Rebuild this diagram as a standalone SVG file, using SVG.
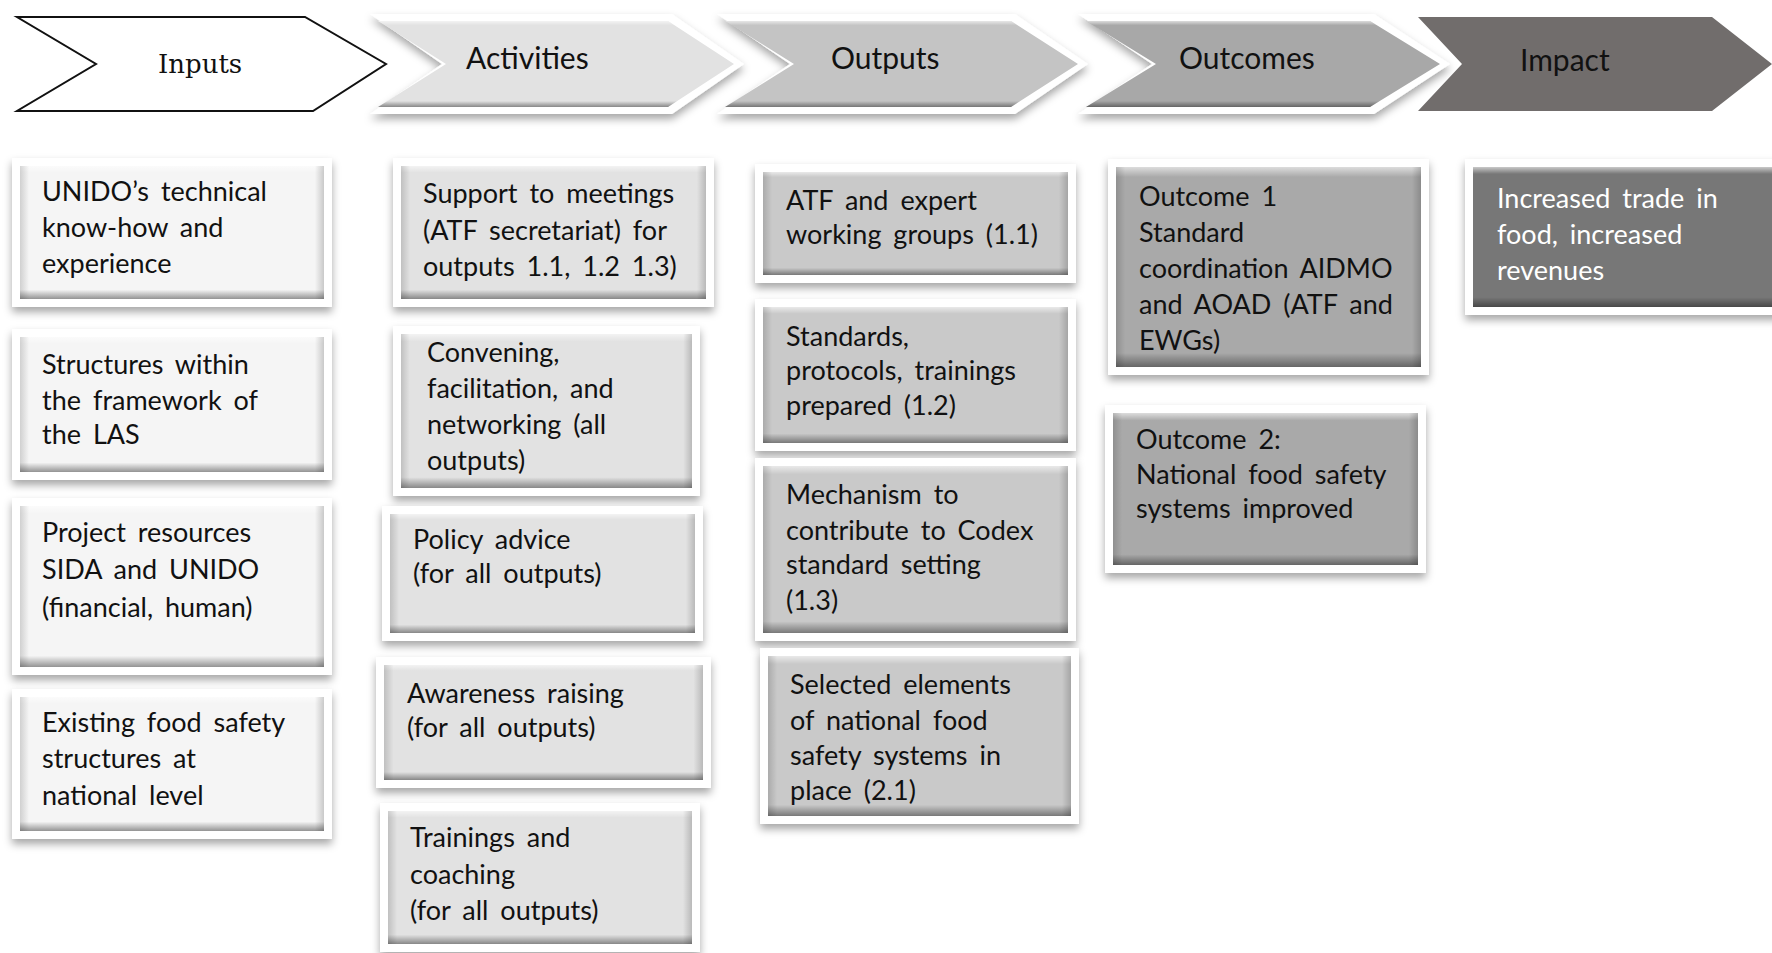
<svg xmlns="http://www.w3.org/2000/svg" width="1772" height="953" viewBox="0 0 1772 953">
<defs>
<filter id="sh" x="-10%" y="-10%" width="120%" height="130%">
<feDropShadow dx="0" dy="5" stdDeviation="4" flood-color="#000" flood-opacity="0.35"/>
</filter>
<linearGradient id="bevV" x1="0" y1="0" x2="0" y2="1">
<stop offset="0" stop-color="#fff" stop-opacity="0.6"/>
<stop offset="0.05" stop-color="#fff" stop-opacity="0"/>
<stop offset="0.93" stop-color="#000" stop-opacity="0"/>
<stop offset="1" stop-color="#000" stop-opacity="0.4"/>
</linearGradient>
<linearGradient id="bevH" x1="0" y1="0" x2="1" y2="0">
<stop offset="0" stop-color="#000" stop-opacity="0.15"/>
<stop offset="0.03" stop-color="#000" stop-opacity="0"/>
<stop offset="0.97" stop-color="#000" stop-opacity="0"/>
<stop offset="1" stop-color="#000" stop-opacity="0.18"/>
</linearGradient>
</defs>
<style>
.o{fill:#fff;filter:url(#sh)}
.bv{fill:url(#bevV)}
.bh{fill:url(#bevH)}
.in{fill:#f5f5f5}
.ac{fill:#e2e2e2}
.ou{fill:#c9c9c9}
.oc{fill:#a9a9a9}
.im{fill:#777777}
.t{font-family:Lato,"Liberation Sans",sans-serif;font-size:27px;fill:#111;word-spacing:5px}
.tw{fill:#fff}
.h{font-family:Lato,"Liberation Sans",sans-serif;font-size:30px;fill:#111}
.hs{font-family:"DejaVu Serif","Liberation Serif",serif;font-size:26px;fill:#111}
</style>

<g id="header-inputs">
<polygon points="17,17 305,17 386,64 313,111 17,111 96,64" fill="#fff" stroke="#111" stroke-width="2"/>
<text class="hs" x="158" y="73">Inputs</text>
</g>
<g id="header-activities">
<polygon class="o" points="370,14 672,14 744,64 672,114 370,114 442,64"/>
<polygon class="ac" points="378,21 668,21 734,64 668,107 378,107 446,64"/>
<polygon class="bv" points="378,21 668,21 734,64 668,107 378,107 446,64"/>
<text class="h" x="466" y="69">Activities</text>
</g>
<g id="header-outputs">
<polygon class="o" points="717,14 1015,14 1088,64 1015,114 717,114 790,64"/>
<polygon fill="#c4c4c4" points="725,21 1011,21 1078,64 1011,107 725,107 794,64"/>
<polygon class="bv" points="725,21 1011,21 1078,64 1011,107 725,107 794,64"/>
<text class="h" x="831" y="69">Outputs</text>
</g>
<g id="header-outcomes">
<polygon class="o" points="1078,14 1374,14 1450,64 1374,114 1078,114 1152,64"/>
<polygon fill="#a8a8a8" points="1086,21 1370,21 1440,64 1370,107 1086,107 1156,64"/>
<polygon class="bv" points="1086,21 1370,21 1440,64 1370,107 1086,107 1156,64"/>
<text class="h" x="1179" y="69">Outcomes</text>
</g>
<g id="header-impact">
<polygon fill="#716d6c" points="1418,17 1712,17 1772,64 1712,111 1418,111 1462,64"/>
<text class="h tw" x="1520" y="71">Impact</text>
</g>

<g id="connectors"></g>

<!-- Inputs -->
<g id="in1">
<rect class="o" x="12" y="158" width="320" height="149"/>
<rect class="in" x="20" y="166" width="304" height="133"/>
<rect class="bv" x="20" y="166" width="304" height="133"/><rect class="bh" x="20" y="166" width="304" height="133"/>
<text class="t" x="42"><tspan x="42" y="201">UNIDO’s technical</tspan><tspan x="42" y="237">know-how and</tspan><tspan x="42" y="273">experience</tspan></text>
</g>
<g id="in2">
<rect class="o" x="12" y="329" width="320" height="151"/>
<rect class="in" x="20" y="337" width="304" height="135"/>
<rect class="bv" x="20" y="337" width="304" height="135"/><rect class="bh" x="20" y="337" width="304" height="135"/>
<text class="t"><tspan x="42" y="374">Structures within</tspan><tspan x="42" y="410">the framework of</tspan><tspan x="42" y="444">the LAS</tspan></text>
</g>
<g id="in3">
<rect class="o" x="12" y="498" width="320" height="177"/>
<rect class="in" x="20" y="506" width="304" height="161"/>
<rect class="bv" x="20" y="506" width="304" height="161"/><rect class="bh" x="20" y="506" width="304" height="161"/>
<text class="t"><tspan x="42" y="542">Project resources</tspan><tspan x="42" y="579">SIDA and UNIDO</tspan><tspan x="42" y="617">(financial, human)</tspan></text>
</g>
<g id="in4">
<rect class="o" x="12" y="689" width="320" height="150"/>
<rect class="in" x="20" y="697" width="304" height="134"/>
<rect class="bv" x="20" y="697" width="304" height="134"/><rect class="bh" x="20" y="697" width="304" height="134"/>
<text class="t"><tspan x="42" y="732">Existing food safety</tspan><tspan x="42" y="768">structures at</tspan><tspan x="42" y="805">national level</tspan></text>
</g>

<!-- Activities -->
<g id="ac1">
<rect class="o" x="393" y="158" width="321" height="149"/>
<rect class="ac" x="401" y="166" width="305" height="133"/>
<rect class="bv" x="401" y="166" width="305" height="133"/><rect class="bh" x="401" y="166" width="305" height="133"/>
<text class="t"><tspan x="423" y="203">Support to meetings</tspan><tspan x="423" y="240">(ATF secretariat) for</tspan><tspan x="423" y="276">outputs 1.1, 1.2 1.3)</tspan></text>
</g>
<g id="ac2">
<rect class="o" x="393" y="326" width="307" height="170"/>
<rect class="ac" x="401" y="334" width="291" height="154"/>
<rect class="bv" x="401" y="334" width="291" height="154"/><rect class="bh" x="401" y="334" width="291" height="154"/>
<text class="t"><tspan x="427" y="362">Convening,</tspan><tspan x="427" y="398">facilitation, and</tspan><tspan x="427" y="434">networking (all</tspan><tspan x="427" y="470">outputs)</tspan></text>
</g>
<g id="ac3">
<rect class="o" x="382" y="506" width="321" height="135"/>
<rect class="ac" x="390" y="514" width="305" height="119"/>
<rect class="bv" x="390" y="514" width="305" height="119"/><rect class="bh" x="390" y="514" width="305" height="119"/>
<text class="t"><tspan x="413" y="549">Policy advice</tspan><tspan x="413" y="583">(for all outputs)</tspan></text>
</g>
<g id="ac4">
<rect class="o" x="376" y="657" width="335" height="131"/>
<rect class="ac" x="384" y="665" width="319" height="115"/>
<rect class="bv" x="384" y="665" width="319" height="115"/><rect class="bh" x="384" y="665" width="319" height="115"/>
<text class="t"><tspan x="407" y="703">Awareness raising</tspan><tspan x="407" y="737">(for all outputs)</tspan></text>
</g>
<g id="ac5">
<rect class="o" x="380" y="803" width="320" height="149"/>
<rect class="ac" x="388" y="811" width="304" height="133"/>
<rect class="bv" x="388" y="811" width="304" height="133"/><rect class="bh" x="388" y="811" width="304" height="133"/>
<text class="t"><tspan x="410" y="847">Trainings and</tspan><tspan x="410" y="884">coaching</tspan><tspan x="410" y="920">(for all outputs)</tspan></text>
</g>

<!-- Outputs -->
<g id="ou1">
<rect class="o" x="755" y="164" width="321" height="119"/>
<rect class="ou" x="763" y="172" width="305" height="103"/>
<rect class="bv" x="763" y="172" width="305" height="103"/><rect class="bh" x="763" y="172" width="305" height="103"/>
<text class="t"><tspan x="786" y="210">ATF and expert</tspan><tspan x="786" y="244">working groups (1.1)</tspan></text>
</g>
<g id="ou2">
<rect class="o" x="755" y="299" width="321" height="152"/>
<rect class="ou" x="763" y="307" width="305" height="136"/>
<rect class="bv" x="763" y="307" width="305" height="136"/><rect class="bh" x="763" y="307" width="305" height="136"/>
<text class="t"><tspan x="786" y="346">Standards,</tspan><tspan x="786" y="380">protocols, trainings</tspan><tspan x="786" y="415">prepared (1.2)</tspan></text>
</g>
<g id="ou3">
<rect class="o" x="755" y="458" width="321" height="183"/>
<rect class="ou" x="763" y="466" width="305" height="167"/>
<rect class="bv" x="763" y="466" width="305" height="167"/><rect class="bh" x="763" y="466" width="305" height="167"/>
<text class="t"><tspan x="786" y="504">Mechanism to</tspan><tspan x="786" y="540">contribute to Codex</tspan><tspan x="786" y="574">standard setting</tspan><tspan x="786" y="610">(1.3)</tspan></text>
</g>
<g id="ou4">
<rect class="o" x="760" y="648" width="319" height="176"/>
<rect class="ou" x="768" y="656" width="303" height="160"/>
<rect class="bv" x="768" y="656" width="303" height="160"/><rect class="bh" x="768" y="656" width="303" height="160"/>
<text class="t"><tspan x="790" y="694">Selected elements</tspan><tspan x="790" y="730">of national food</tspan><tspan x="790" y="765">safety systems in</tspan><tspan x="790" y="800">place (2.1)</tspan></text>
</g>

<!-- Outcomes -->
<g id="oc1">
<rect class="o" x="1108" y="159" width="321" height="216"/>
<rect class="oc" x="1116" y="167" width="305" height="200"/>
<rect class="bv" x="1116" y="167" width="305" height="200"/><rect class="bh" x="1116" y="167" width="305" height="200"/>
<text class="t"><tspan x="1139" y="206">Outcome 1</tspan><tspan x="1139" y="242">Standard</tspan><tspan x="1139" y="278">coordination AIDMO</tspan><tspan x="1139" y="314">and AOAD (ATF and</tspan><tspan x="1139" y="350">EWGs)</tspan></text>
</g>
<g id="oc2">
<rect class="o" x="1105" y="405" width="321" height="168"/>
<rect class="oc" x="1113" y="413" width="305" height="152"/>
<rect class="bv" x="1113" y="413" width="305" height="152"/><rect class="bh" x="1113" y="413" width="305" height="152"/>
<text class="t"><tspan x="1136" y="449">Outcome 2:</tspan><tspan x="1136" y="484">National food safety</tspan><tspan x="1136" y="518">systems improved</tspan></text>
</g>

<!-- Impact -->
<g id="im1">
<rect class="o" x="1465" y="159" width="330" height="156"/>
<rect class="im" x="1473" y="167" width="320" height="140"/>
<rect class="bv" x="1473" y="167" width="320" height="140"/>
<text class="t tw"><tspan x="1497" y="208">Increased trade in</tspan><tspan x="1497" y="244">food, increased</tspan><tspan x="1497" y="280">revenues</tspan></text>
</g>
</svg>
